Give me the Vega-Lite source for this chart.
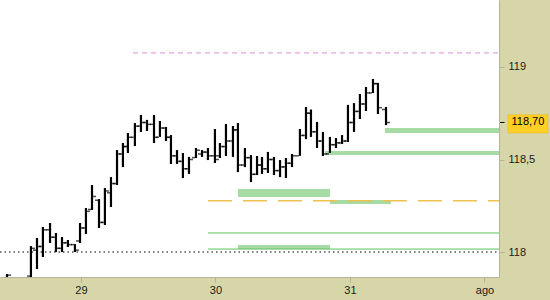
{
  "$schema": "https://vega.github.io/schema/vega-lite/v6.json",
  "width": 499,
  "height": 277,
  "autosize": "none",
  "padding": {"left": 0, "top": 0, "right": 51, "bottom": 23},
  "background": "#D6D6A9",
  "config": {
    "view": {"fill": "#FFFFFF", "stroke": null},
    "font": "Liberation Sans",
    "axisX": {
      "grid": false, "domain": true, "domainColor": "#B4B49C", "tickSize": 5, "tickColor": "#B4B49C",
      "labelFontSize": 11, "labelColor": "#1A1A1A", "labelPadding": 2, "labelFont": "Liberation Sans"
    },
    "axisY": {
      "grid": false, "domain": true, "domainColor": "#B4B49C", "tickSize": 5,
      "labelFontSize": 11, "labelColor": "#1A1A1A", "labelPadding": 4, "labelFont": "Liberation Sans"
    }
  },
  "datasets": {
    "ohlc": [
      {"t": 28.450, "o": 117.860, "h": 117.881, "l": 117.840, "c": 117.875},
      {"t": 28.628, "o": 117.870, "h": 118.032, "l": 117.850, "c": 118.020},
      {"t": 28.673, "o": 118.010, "h": 118.076, "l": 117.908, "c": 118.030},
      {"t": 28.717, "o": 118.030, "h": 118.135, "l": 117.973, "c": 118.120},
      {"t": 28.770, "o": 118.120, "h": 118.157, "l": 118.049, "c": 118.080},
      {"t": 28.814, "o": 118.080, "h": 118.103, "l": 118.000, "c": 118.020},
      {"t": 28.859, "o": 118.020, "h": 118.081, "l": 118.000, "c": 118.050},
      {"t": 28.903, "o": 118.050, "h": 118.065, "l": 118.027, "c": 118.040},
      {"t": 28.955, "o": 118.040, "h": 118.043, "l": 118.000, "c": 118.010},
      {"t": 28.993, "o": 118.060, "h": 118.157, "l": 118.049, "c": 118.130},
      {"t": 29.037, "o": 118.130, "h": 118.238, "l": 118.097, "c": 118.220},
      {"t": 29.082, "o": 118.230, "h": 118.362, "l": 118.227, "c": 118.300},
      {"t": 29.134, "o": 118.280, "h": 118.286, "l": 118.130, "c": 118.160},
      {"t": 29.178, "o": 118.160, "h": 118.346, "l": 118.146, "c": 118.330},
      {"t": 29.223, "o": 118.320, "h": 118.405, "l": 118.243, "c": 118.370},
      {"t": 29.268, "o": 118.370, "h": 118.551, "l": 118.362, "c": 118.530},
      {"t": 29.312, "o": 118.530, "h": 118.589, "l": 118.459, "c": 118.570},
      {"t": 29.349, "o": 118.570, "h": 118.643, "l": 118.535, "c": 118.620},
      {"t": 29.401, "o": 118.620, "h": 118.697, "l": 118.573, "c": 118.680},
      {"t": 29.446, "o": 118.680, "h": 118.741, "l": 118.649, "c": 118.700},
      {"t": 29.491, "o": 118.700, "h": 118.714, "l": 118.654, "c": 118.690},
      {"t": 29.543, "o": 118.690, "h": 118.741, "l": 118.589, "c": 118.620},
      {"t": 29.587, "o": 118.620, "h": 118.708, "l": 118.622, "c": 118.670},
      {"t": 29.632, "o": 118.670, "h": 118.676, "l": 118.600, "c": 118.620},
      {"t": 29.669, "o": 118.620, "h": 118.632, "l": 118.476, "c": 118.520},
      {"t": 29.714, "o": 118.520, "h": 118.551, "l": 118.476, "c": 118.490},
      {"t": 29.758, "o": 118.490, "h": 118.535, "l": 118.400, "c": 118.450},
      {"t": 29.803, "o": 118.450, "h": 118.514, "l": 118.422, "c": 118.500},
      {"t": 29.855, "o": 118.510, "h": 118.562, "l": 118.508, "c": 118.550},
      {"t": 29.900, "o": 118.530, "h": 118.551, "l": 118.514, "c": 118.540},
      {"t": 29.944, "o": 118.540, "h": 118.562, "l": 118.497, "c": 118.520},
      {"t": 29.996, "o": 118.520, "h": 118.665, "l": 118.481, "c": 118.500},
      {"t": 30.033, "o": 118.520, "h": 118.589, "l": 118.508, "c": 118.570},
      {"t": 30.078, "o": 118.570, "h": 118.692, "l": 118.519, "c": 118.600},
      {"t": 30.130, "o": 118.600, "h": 118.681, "l": 118.514, "c": 118.660},
      {"t": 30.167, "o": 118.660, "h": 118.697, "l": 118.432, "c": 118.470},
      {"t": 30.219, "o": 118.470, "h": 118.562, "l": 118.459, "c": 118.510},
      {"t": 30.264, "o": 118.510, "h": 118.524, "l": 118.378, "c": 118.420},
      {"t": 30.309, "o": 118.420, "h": 118.519, "l": 118.416, "c": 118.470},
      {"t": 30.346, "o": 118.470, "h": 118.514, "l": 118.422, "c": 118.450},
      {"t": 30.390, "o": 118.450, "h": 118.541, "l": 118.427, "c": 118.500},
      {"t": 30.435, "o": 118.500, "h": 118.514, "l": 118.416, "c": 118.440},
      {"t": 30.480, "o": 118.440, "h": 118.497, "l": 118.405, "c": 118.460},
      {"t": 30.524, "o": 118.460, "h": 118.508, "l": 118.400, "c": 118.480},
      {"t": 30.569, "o": 118.480, "h": 118.530, "l": 118.459, "c": 118.520},
      {"t": 30.628, "o": 118.520, "h": 118.665, "l": 118.520, "c": 118.630},
      {"t": 30.673, "o": 118.630, "h": 118.784, "l": 118.610, "c": 118.750},
      {"t": 30.710, "o": 118.750, "h": 118.770, "l": 118.622, "c": 118.650},
      {"t": 30.755, "o": 118.650, "h": 118.703, "l": 118.562, "c": 118.600},
      {"t": 30.799, "o": 118.600, "h": 118.649, "l": 118.519, "c": 118.530},
      {"t": 30.851, "o": 118.530, "h": 118.622, "l": 118.535, "c": 118.580},
      {"t": 30.896, "o": 118.580, "h": 118.616, "l": 118.562, "c": 118.590},
      {"t": 30.941, "o": 118.590, "h": 118.632, "l": 118.584, "c": 118.600},
      {"t": 30.985, "o": 118.600, "h": 118.795, "l": 118.595, "c": 118.700},
      {"t": 31.030, "o": 118.700, "h": 118.805, "l": 118.649, "c": 118.760},
      {"t": 31.074, "o": 118.760, "h": 118.854, "l": 118.719, "c": 118.800},
      {"t": 31.119, "o": 118.800, "h": 118.892, "l": 118.762, "c": 118.860},
      {"t": 31.171, "o": 118.860, "h": 118.935, "l": 118.859, "c": 118.910},
      {"t": 31.208, "o": 118.910, "h": 118.914, "l": 118.746, "c": 118.780},
      {"t": 31.268, "o": 118.770, "h": 118.784, "l": 118.686, "c": 118.700}
    ],
    "zones": [
      {"t": 31.260, "t2": 32.108, "v": 118.643, "v2": 118.670},
      {"t": 30.814, "t2": 32.108, "v": 118.524, "v2": 118.546},
      {"t": 30.167, "t2": 30.851, "v": 118.297, "v2": 118.341},
      {"t": 30.851, "t2": 31.305, "v": 118.259, "v2": 118.281},
      {"t": 30.167, "t2": 30.851, "v": 118.016, "v2": 118.038}
    ],
    "levels": [
      {"name": "pink", "t": 29.387, "t2": 32.108, "v": 119.076},
      {"name": "orange", "t": 29.944, "t2": 32.108, "v": 118.277},
      {"name": "green1", "t": 29.944, "t2": 32.108, "v": 118.103},
      {"name": "green2", "t": 29.944, "t2": 32.108, "v": 118.016},
      {"name": "dotted", "t": 28.398, "t2": 32.108, "v": 118.000}
    ],
    "lastbox": [
      {"t": 32.175, "t2": 32.472, "v": 118.643, "v2": 118.742}
    ],
    "lastlabel": [
      {"t": 32.323, "v": 118.70, "label": "118,70"}
    ]
  },
  "encoding": {
    "x": {
      "field": "t", "type": "quantitative", "title": null,
      "scale": {"domain": [28.398, 32.108], "nice": false, "zero": false},
      "axis": {
        "title": null, "orient": "bottom", "values": [29, 30, 31, 32],
        "labelExpr": "datum.value == 32 ? 'ago' : format(datum.value, 'd')"
      }
    },
    "y": {
      "field": "v", "type": "quantitative", "title": null,
      "scale": {"domain": [117.865, 119.362], "nice": false, "zero": false},
      "axis": {
        "title": null, "orient": "right", "values": [118, 118.5, 118.7, 119],
        "labelExpr": "datum.value == 118.7 ? '' : replace(format(datum.value, '~g'), '.', ',')",
        "tickColor": {"condition": {"test": "datum.value == 118.7", "value": "#000000"}, "value": "#B4B49C"}
      }
    }
  },
  "layer": [
    {
      "data": {"name": "zones"},
      "mark": {"type": "rect", "color": "#A6DBA4", "clip": true},
      "encoding": {
        "x2": {"field": "t2"},
        "y2": {"field": "v2"}
      }
    },
    {
      "data": {"name": "levels"},
      "transform": [{"filter": "datum.name == 'pink'"}],
      "mark": {"type": "rule", "color": "#D791C6", "strokeWidth": 1, "strokeDash": [5, 4]},
      "encoding": {"x2": {"field": "t2"}}
    },
    {
      "data": {"name": "levels"},
      "transform": [{"filter": "datum.name == 'orange'"}],
      "mark": {"type": "rule", "color": "#EEC050", "strokeWidth": 1.3, "strokeDash": [24, 11]},
      "encoding": {"x2": {"field": "t2"}}
    },
    {
      "data": {"name": "levels"},
      "transform": [{"filter": "datum.name == 'green1' || datum.name == 'green2'"}],
      "mark": {"type": "rule", "color": "#5CC45C", "strokeWidth": 1},
      "encoding": {"x2": {"field": "t2"}}
    },
    {
      "data": {"name": "levels"},
      "transform": [{"filter": "datum.name == 'dotted'"}],
      "mark": {"type": "rule", "color": "#000000", "strokeWidth": 1, "strokeDash": [1.5, 3]},
      "encoding": {"x2": {"field": "t2"}}
    },
    {
      "data": {"name": "ohlc"},
      "mark": {"type": "rule", "color": "#000000", "strokeWidth": 2.2, "clip": true},
      "encoding": {
        "y": {
          "field": "l", "type": "quantitative", "title": null,
          "scale": {"domain": [117.865, 119.362], "nice": false, "zero": false},
          "axis": {
            "title": null, "orient": "right", "values": [118, 118.5, 118.7, 119],
            "labelExpr": "datum.value == 118.7 ? '' : replace(format(datum.value, '~g'), '.', ',')",
            "tickColor": {"condition": {"test": "datum.value == 118.7", "value": "#000000"}, "value": "#B4B49C"}
          }
        },
        "y2": {"field": "h"}
      }
    },
    {
      "data": {"name": "ohlc"},
      "mark": {"type": "tick", "orient": "horizontal", "color": "#000000", "size": 3, "thickness": 1.5, "xOffset": -2.5, "clip": true},
      "encoding": {
        "y": {
          "field": "o", "type": "quantitative", "title": null,
          "scale": {"domain": [117.865, 119.362], "nice": false, "zero": false},
          "axis": {
            "title": null, "orient": "right", "values": [118, 118.5, 118.7, 119],
            "labelExpr": "datum.value == 118.7 ? '' : replace(format(datum.value, '~g'), '.', ',')",
            "tickColor": {"condition": {"test": "datum.value == 118.7", "value": "#000000"}, "value": "#B4B49C"}
          }
        }
      }
    },
    {
      "data": {"name": "ohlc"},
      "mark": {"type": "tick", "orient": "horizontal", "color": "#000000", "size": 3, "thickness": 1.5, "xOffset": 2.5, "clip": true},
      "encoding": {
        "y": {
          "field": "c", "type": "quantitative", "title": null,
          "scale": {"domain": [117.865, 119.362], "nice": false, "zero": false},
          "axis": {
            "title": null, "orient": "right", "values": [118, 118.5, 118.7, 119],
            "labelExpr": "datum.value == 118.7 ? '' : replace(format(datum.value, '~g'), '.', ',')",
            "tickColor": {"condition": {"test": "datum.value == 118.7", "value": "#000000"}, "value": "#B4B49C"}
          }
        }
      }
    },
    {
      "data": {"name": "lastbox"},
      "mark": {"type": "rect", "color": "#FFCF26", "stroke": "#E8B420", "strokeWidth": 0.5},
      "encoding": {
        "x2": {"field": "t2"},
        "y2": {"field": "v2"}
      }
    },
    {
      "data": {"name": "lastlabel"},
      "mark": {"type": "text", "color": "#000000", "fontSize": 11, "font": "Liberation Sans", "align": "center", "baseline": "middle"},
      "encoding": {
        "text": {"field": "label"}
      }
    }
  ]
}
